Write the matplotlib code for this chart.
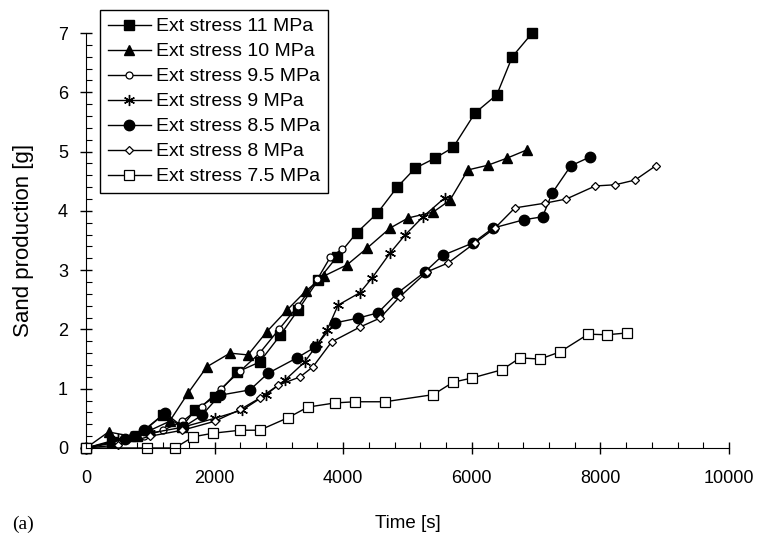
import numpy as np
import matplotlib
matplotlib.use("Agg")
import matplotlib.pyplot as plt
from matplotlib.ticker import MultipleLocator

plt.rcParams['font.family'] = ['Liberation Sans', 'DejaVu Sans']

# Data (time in s, sand production in g)
t_11 = [0, 400, 800, 1200, 1490, 1700, 2000, 2350, 2700, 3020, 3300, 3610, 3900, 4210, 4530, 4840, 5120, 5430, 5710, 6050, 6390, 6630, 6940]
s_11 = [0, 0.10, 0.20, 0.56, 0.36, 0.64, 0.86, 1.28, 1.45, 1.90, 2.33, 2.83, 3.22, 3.63, 3.96, 4.40, 4.72, 4.89, 5.07, 5.65, 5.96, 6.60, 7.00]

t_10 = [0, 350, 700, 1000, 1300, 1590, 1880, 2240, 2520, 2810, 3130, 3420, 3700, 4060, 4370, 4730, 5010, 5400, 5660, 5940, 6250, 6550, 6860]
s_10 = [0, 0.27, 0.20, 0.30, 0.45, 0.93, 1.37, 1.60, 1.57, 1.96, 2.33, 2.65, 2.90, 3.09, 3.37, 3.71, 3.88, 3.98, 4.18, 4.69, 4.77, 4.89, 5.03]

t_95 = [0, 500, 900, 1200, 1500, 1800, 2100, 2400, 2700, 3000, 3300, 3600, 3800, 3980]
s_95 = [0, 0.10, 0.20, 0.30, 0.45, 0.70, 1.00, 1.30, 1.60, 2.00, 2.40, 2.85, 3.22, 3.35]

t_9 = [0, 500, 1000, 1500, 2000, 2430, 2800, 3100, 3400, 3600, 3750, 3920, 4260, 4450, 4730, 4960, 5240, 5580]
s_9 = [0, 0.15, 0.25, 0.35, 0.50, 0.64, 0.90, 1.15, 1.45, 1.75, 1.99, 2.41, 2.62, 2.87, 3.29, 3.59, 3.90, 4.22]

t_85 = [0, 600, 900, 1230, 1510, 1800, 2080, 2550, 2830, 3280, 3560, 3870, 4230, 4540, 4840, 5270, 5550, 6020, 6330, 6810, 7100, 7250, 7540, 7840]
s_85 = [0, 0.15, 0.30, 0.59, 0.35, 0.55, 0.89, 0.98, 1.26, 1.52, 1.70, 2.11, 2.19, 2.28, 2.61, 2.97, 3.25, 3.46, 3.71, 3.85, 3.90, 4.30, 4.76, 4.91]

t_8 = [0, 500, 1000, 1500, 2000, 2400, 2700, 2990, 3330, 3530, 3820, 4260, 4570, 4880, 5300, 5630, 6050, 6360, 6670, 7140, 7470, 7920, 8230, 8540, 8860]
s_8 = [0, 0.05, 0.20, 0.30, 0.45, 0.65, 0.84, 1.06, 1.20, 1.37, 1.79, 2.04, 2.19, 2.55, 2.97, 3.12, 3.46, 3.71, 4.05, 4.13, 4.20, 4.42, 4.44, 4.52, 4.76]

t_75 = [0, 950, 1380, 1670, 1980, 2400, 2700, 3140, 3450, 3870, 4180, 4650, 5400, 5710, 6000, 6470, 6750, 7060, 7370, 7810, 8100, 8410]
s_75 = [0, 0.0, 0.0, 0.19, 0.25, 0.30, 0.30, 0.51, 0.69, 0.76, 0.78, 0.78, 0.90, 1.11, 1.18, 1.32, 1.52, 1.50, 1.62, 1.92, 1.91, 1.94]

fig = plt.figure(figsize=(7.61, 5.42), dpi=100)
ax = fig.add_axes([86 / 761, 1 - 448 / 542, (729 - 86) / 761, (448 - 33) / 542])

kw = dict(color='black', lw=1.0, clip_on=False)
ax.plot(t_11, s_11, marker='s', ms=6.5, mfc='black', mec='black', label='Ext stress 11 MPa', **kw)
ax.plot(t_10, s_10, marker='^', ms=7.5, mfc='black', mec='black', label='Ext stress 10 MPa', **kw)
ax.plot(t_95, s_95, marker='o', ms=5, mfc='white', mec='black', mew=0.9, label='Ext stress 9.5 MPa', **kw)
ax.plot(t_9, s_9, marker=(6, 2, 0), ms=8, mec='black', mew=1.0, label='Ext stress 9 MPa', **kw)
ax.plot(t_85, s_85, marker='o', ms=7.5, mfc='black', mec='black', label='Ext stress 8.5 MPa', **kw)
ax.plot(t_8, s_8, marker='D', ms=4.5, mfc='white', mec='black', mew=0.9, label='Ext stress 8 MPa', **kw)
ax.plot(t_75, s_75, marker='s', ms=7, mfc='white', mec='black', mew=0.9, label='Ext stress 7.5 MPa', **kw)

ax.set_xlim(0, 10000)
ax.set_ylim(0, 7)
ax.xaxis.set_major_locator(MultipleLocator(2000))
ax.xaxis.set_minor_locator(MultipleLocator(400))
ax.yaxis.set_major_locator(MultipleLocator(1))
ax.yaxis.set_minor_locator(MultipleLocator(0.2))
ax.tick_params(which='major', direction='inout', length=8, width=1, labelsize=13)
ax.tick_params(which='minor', direction='in', length=4, width=0.8)
ax.tick_params(axis='x', which='major', pad=12)
ax.tick_params(axis='y', which='major', pad=9)
ax.spines['top'].set_visible(False)
ax.spines['right'].set_visible(False)

ax.set_xlabel('Time [s]', fontsize=13.5, va='center')
ax.xaxis.set_label_coords(0.5, -(524 - 448) / 415)
ax.set_ylabel('Sand production [g]', fontsize=16, va='center')
ax.yaxis.set_label_coords((24 - 86) / 643, 0.5)
fig.text(12 / 761, 1 - 524 / 542, '(a)', fontsize=14, family='Liberation Serif', va='center', ha='left')

leg = ax.legend(loc='upper left', bbox_to_anchor=(100 / 761, 1 - 10 / 542), bbox_transform=fig.transFigure,
                borderaxespad=0, fontsize=14, frameon=True, fancybox=False, edgecolor='black', framealpha=1,
                handlelength=2.2, labelspacing=0.38, borderpad=0.4, handletextpad=0.3)
leg.get_frame().set_linewidth(1.0)

fig.savefig('out.png', dpi=100)
